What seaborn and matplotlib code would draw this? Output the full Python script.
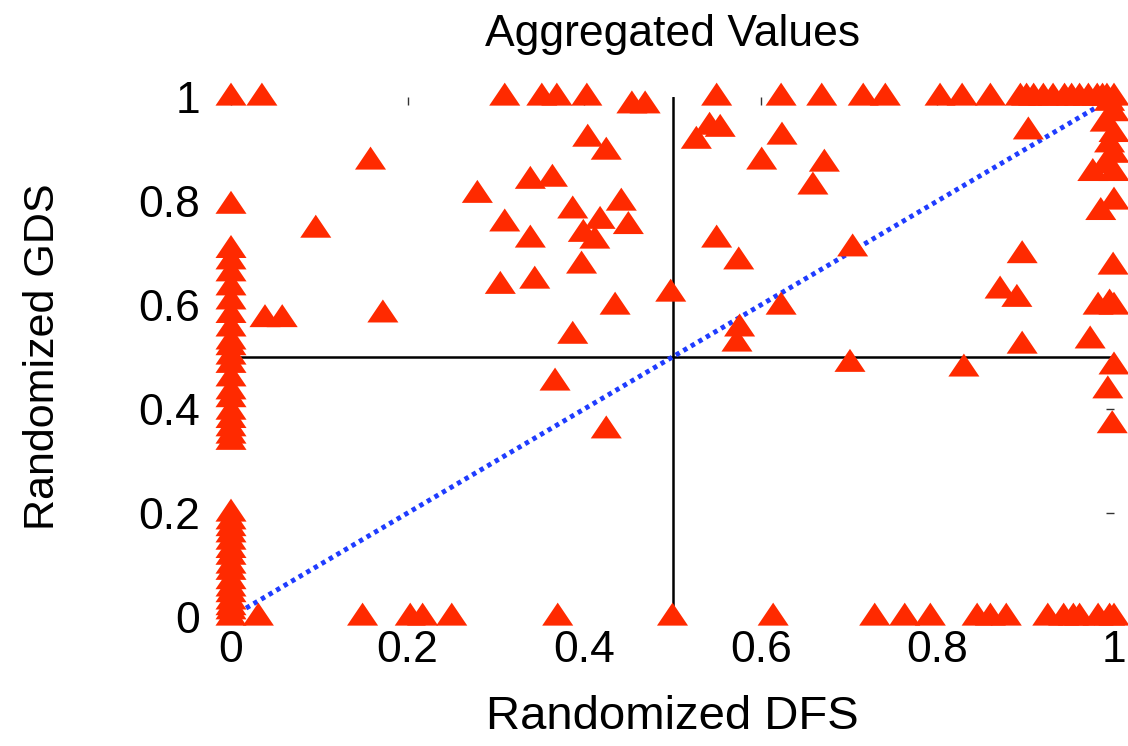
import matplotlib
matplotlib.use("Agg")
import matplotlib.pyplot as plt
import numpy as np
import pandas as pd
import seaborn as sns
from matplotlib.path import Path

# -- Data ----------------------------------------------------------------------

top_row_x = [0.0, 0.035, 0.31, 0.352, 0.369, 0.403, 0.55, 0.623, 0.669, 0.716,
             0.741, 0.803, 0.828, 0.86, 0.894, 0.901, 0.909, 0.92, 0.931, 0.944,
             0.952, 0.961, 0.971, 0.981, 0.987, 0.992, 1.0]
near_top_x = [0.454, 0.469]
near_top_y = [0.985, 0.985]

bottom_row_x = [0.0, 0.031, 0.149, 0.203, 0.217, 0.25, 0.37, 0.5, 0.614, 0.729,
                0.763, 0.792, 0.845, 0.86, 0.878, 0.925, 0.943, 0.954, 0.961,
                0.982, 0.995, 1.0]

left_col_y = [0.792, 0.707, 0.685, 0.662, 0.635, 0.608, 0.582, 0.556, 0.531,
              0.52, 0.502, 0.486, 0.46, 0.435, 0.42, 0.396, 0.38, 0.364, 0.35,
              0.338, 0.2, 0.185, 0.172, 0.16, 0.146, 0.13, 0.117, 0.1, 0.088,
              0.07, 0.056, 0.045, 0.031, 0.02, 0.012]

right_col_x = [0.995, 1.0, 0.99, 1.0, 0.995, 1.0, 0.99, 1.0, 0.976, 0.985, 1.0,
               0.999, 0.982, 0.995, 1.0, 0.973, 1.0, 0.993, 0.998]
right_col_y = [0.99, 0.97, 0.95, 0.93, 0.91, 0.89, 0.87, 0.855, 0.855, 0.78, 0.80,
               0.675, 0.598, 0.604, 0.598, 0.533, 0.483, 0.437, 0.37]

inner_x = [0.158, 0.279, 0.31, 0.096, 0.305, 0.172, 0.0385, 0.058,
           0.404, 0.425, 0.339, 0.364, 0.387, 0.442, 0.418, 0.45, 0.399, 0.412,
           0.339, 0.397, 0.344, 0.435, 0.498, 0.387,
           0.542, 0.554, 0.527, 0.624, 0.601, 0.55, 0.575, 0.623, 0.576, 0.573,
           0.367, 0.425,
           0.672, 0.659, 0.704, 0.896, 0.871, 0.89, 0.896, 0.903, 0.701, 0.83]
inner_y = [0.877, 0.813, 0.758, 0.746, 0.638, 0.583, 0.574, 0.574,
           0.921, 0.896, 0.84, 0.844, 0.783, 0.798, 0.763, 0.753, 0.738, 0.725,
           0.727, 0.677, 0.648, 0.598, 0.623, 0.542,
           0.944, 0.94, 0.917, 0.925, 0.877, 0.727, 0.685, 0.598, 0.556, 0.527,
           0.452, 0.36,
           0.873, 0.829, 0.71, 0.697, 0.629, 0.613, 0.523, 0.935, 0.488, 0.479]

diag = [0.0, 1.0]
mid = 0.5
ticks = [0, 0.2, 0.4, 0.6, 0.8, 1]
tick_labels = ["0", "0.2", "0.4", "0.6", "0.8", "1"]

# -- Assemble ------------------------------------------------------------------

xs = (top_row_x + near_top_x + bottom_row_x + [0.0] * len(left_col_y)
      + right_col_x + inner_x)
ys = ([1.0] * len(top_row_x) + near_top_y + [0.0] * len(bottom_row_x)
      + left_col_y + right_col_y + inner_y)
df = pd.DataFrame({"dfs": xs, "gds": ys})

# wide, slightly raised triangle like the original gnuplot marker
tri = Path([(0, 1.25), (-1.35, -0.75), (1.35, -0.75), (0, 1.25)],
           [Path.MOVETO, Path.LINETO, Path.LINETO, Path.CLOSEPOLY])

sns.set_theme(style="white")
plt.rcParams["font.family"] = ["Liberation Sans", "DejaVu Sans"]
plt.rcParams["text.color"] = "black"
plt.rcParams["axes.labelcolor"] = "black"
plt.rcParams["xtick.color"] = "black"
plt.rcParams["ytick.color"] = "black"

fig = plt.figure(figsize=(11.28, 7.46), dpi=100)
ax = fig.add_axes([231 / 1128, 129 / 746, 883 / 1128, 520 / 746])

ax.plot(diag, [mid, mid], color="black", lw=1.8, zorder=1)
ax.plot([mid, mid], diag, color="black", lw=1.8, zorder=1)
ax.plot(diag, diag, color="#1f3cff", lw=3.5, linestyle=(0, (0.9, 0.9)), zorder=2)

sns.scatterplot(data=df, x="dfs", y="gds", ax=ax, marker=tri, s=500,
                color="#ff2a00", edgecolor="none", linewidth=0, zorder=3,
                clip_on=False, legend=False)

ax.set_xlim(0, 1)
ax.set_ylim(0, 1)
for s in ax.spines.values():
    s.set_visible(False)

ax.set_xticks(ticks)
ax.set_xticklabels(tick_labels)
ax.set_yticks(ticks)
ax.set_yticklabels(tick_labels)
ax.tick_params(axis="both", direction="in", length=6, width=1, color="#333333",
               top=True, right=True, labelsize=32)
ax.tick_params(axis="x", pad=9)
ax.tick_params(axis="y", pad=22)

ax.set_xlabel("Randomized DFS", fontsize=34)
ax.set_ylabel("Randomized GDS", fontsize=31)
ax.xaxis.set_label_coords(0.5, -0.15)
ax.yaxis.set_label_coords(-0.19, 0.5)
ax.set_title("Aggregated Values", fontsize=32, y=1.098, pad=0)

fig.savefig("out.png", dpi=100)
